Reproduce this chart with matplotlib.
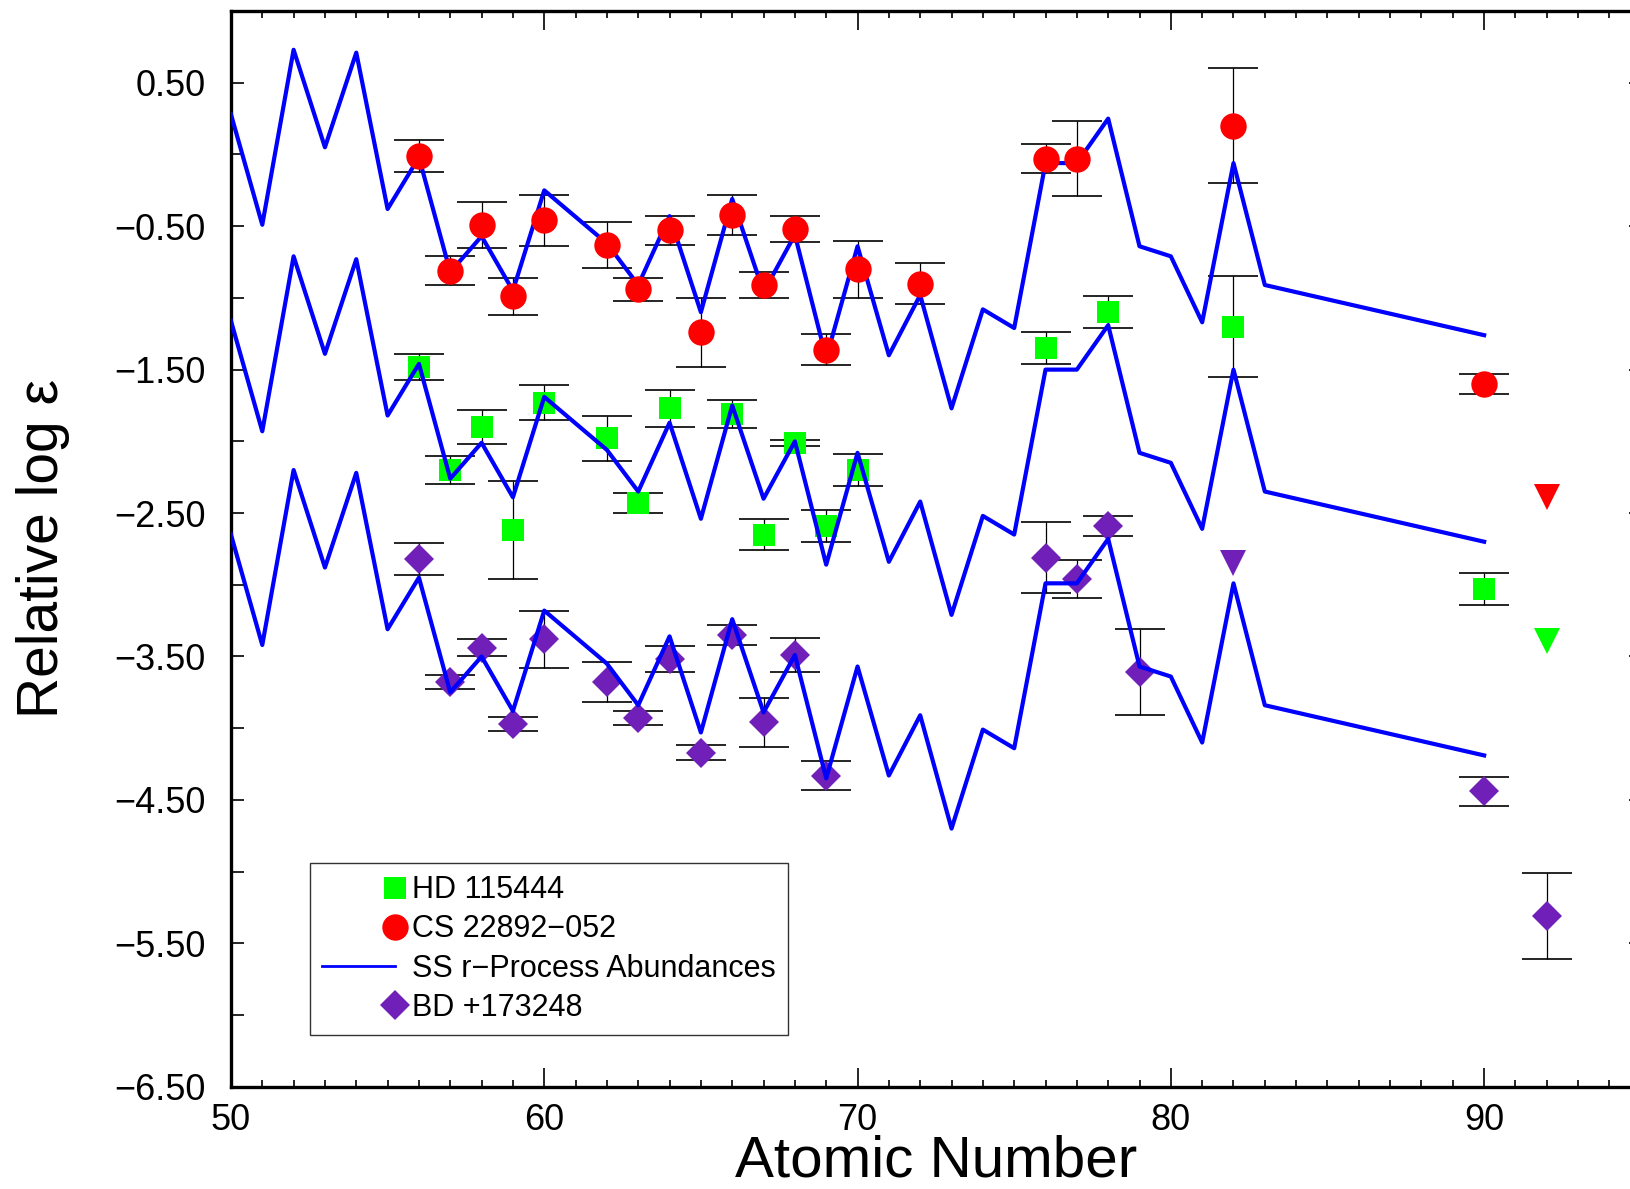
import matplotlib
matplotlib.use("Agg")
import matplotlib.pyplot as plt
import numpy as np
from matplotlib.legend_handler import HandlerLine2D
from matplotlib.lines import Line2D

plt.rcParams['font.family'] = ['Liberation Sans', 'DejaVu Sans']

# SS r-process curves (scaled to each star)
z_ss = [50, 51, 52, 53, 54, 55, 56, 57, 58, 59, 60, 62, 63, 64, 65, 66, 67, 68, 69, 70,
        71, 72, 73, 74, 75, 76, 77, 78, 79, 80, 81, 82, 83, 90]
ss_cs = [0.28, -0.49, 0.73, 0.05, 0.71, -0.38, -0.02, -0.82, -0.57, -0.95, -0.25, -0.62, -0.91,
         -0.43, -1.10, -0.31, -0.96, -0.56, -1.42, -0.64, -1.40, -0.98, -1.77, -1.08, -1.21,
         -0.06, -0.06, 0.25, -0.64, -0.71, -1.17, -0.06, -0.91, -1.26]
ss_hd = [-1.16, -1.93, -0.71, -1.39, -0.73, -1.82, -1.46, -2.26, -2.01, -2.39, -1.69, -2.06, -2.35,
         -1.87, -2.54, -1.75, -2.40, -2.00, -2.86, -2.08, -2.84, -2.42, -3.21, -2.52, -2.65,
         -1.50, -1.50, -1.19, -2.08, -2.15, -2.61, -1.50, -2.35, -2.70]
ss_bd = [-2.65, -3.42, -2.20, -2.88, -2.22, -3.31, -2.95, -3.75, -3.50, -3.88, -3.18, -3.55, -3.84,
         -3.36, -4.03, -3.24, -3.89, -3.49, -4.35, -3.57, -4.33, -3.91, -4.70, -4.01, -4.14,
         -2.99, -2.99, -2.68, -3.57, -3.64, -4.10, -2.99, -3.84, -4.19]

# CS 22892-052
z_cs = [56, 57, 58, 59, 60, 62, 63, 64, 65, 66, 67, 68, 69, 70, 72, 76, 77, 82, 90]
cs = [-0.01, -0.81, -0.49, -0.99, -0.46, -0.63, -0.94, -0.53, -1.24, -0.42, -0.91, -0.52, -1.36,
      -0.80, -0.90, -0.03, -0.03, 0.20, -1.60]
cs_err = [0.11, 0.10, 0.16, 0.13, 0.18, 0.16, 0.08, 0.10, 0.24, 0.14, 0.09, 0.09, 0.11,
          0.20, 0.14, 0.10, 0.26, 0.40, 0.07]
z_cs_lim = [92]
cs_lim = [-2.39]

# HD 115444
z_hd = [56, 57, 58, 59, 60, 62, 63, 64, 66, 67, 68, 69, 70, 76, 78, 82, 90]
hd = [-1.48, -2.20, -1.90, -2.62, -1.73, -1.98, -2.43, -1.77, -1.81, -2.65, -2.01, -2.59, -2.20,
      -1.35, -1.10, -1.20, -3.03]
hd_err = [0.09, 0.10, 0.12, 0.34, 0.12, 0.16, 0.07, 0.13, 0.10, 0.11, 0.02, 0.11, 0.11,
          0.11, 0.11, 0.35, 0.11]
z_hd_lim = [92]
hd_lim = [-3.39]

# BD +17 3248
z_bd = [56, 57, 58, 59, 60, 62, 63, 64, 65, 66, 67, 68, 69, 76, 77, 78, 79, 90, 92]
bd = [-2.82, -3.68, -3.44, -3.97, -3.38, -3.68, -3.93, -3.52, -4.17, -3.35, -3.96, -3.49, -4.33,
      -2.81, -2.96, -2.59, -3.61, -4.44, -5.31]
bd_err = [0.11, 0.05, 0.06, 0.05, 0.20, 0.14, 0.05, 0.09, 0.05, 0.07, 0.17, 0.12, 0.10,
          0.25, 0.13, 0.07, 0.30, 0.10, 0.30]
z_bd_lim = [82]
bd_lim = [-2.85]

RED = '#ff0000'
GREEN = '#00ff00'
PURPLE = '#7020b8'
BLUE = '#0000ff'

fig = plt.figure(figsize=(16.31, 11.89), dpi=100)
ax = fig.add_axes([0.1416, 0.086, 0.8644, 0.9047])

eb = dict(fmt='none', ecolor='black', elinewidth=0.9, capsize=18, capthick=1.2, zorder=1)
ax.errorbar(z_hd, hd, yerr=hd_err, **eb)
ax.errorbar(z_bd, bd, yerr=bd_err, **eb)
ax.errorbar(z_cs, cs, yerr=cs_err, **eb)

ax.plot(z_hd, hd, 's', color=GREEN, ms=16, mew=0, zorder=2)
ax.plot(z_hd_lim, hd_lim, 'v', color=GREEN, ms=19, mew=0, zorder=2)
ax.plot(z_bd, bd, 'D', color=PURPLE, ms=15, mew=0, zorder=2)
ax.plot(z_bd_lim, bd_lim, 'v', color=PURPLE, ms=19, mew=0, zorder=2)

for ss in (ss_cs, ss_hd, ss_bd):
    ax.plot(z_ss, ss, '-', color=BLUE, lw=3, zorder=3)

ax.plot(z_cs, cs, 'o', color=RED, ms=19, mew=0, zorder=4)
ax.plot(z_cs_lim, cs_lim, 'v', color=RED, ms=19, mew=0, zorder=4)

ax.set_xlim(50, 95)
ax.set_ylim(-6.5, 1.0)

ax.set_xticks(np.arange(50, 91, 10))
ax.set_xticks(np.arange(51, 95, 1), minor=True)
yt = np.arange(0.5, -7.0, -1.0)
ax.set_yticks(yt)
ax.set_yticklabels([f"{v:.2f}".replace('-', '\u2212') for v in yt])
ax.set_yticks(np.arange(0.0, -6.6, -1.0), minor=True)

ax.tick_params(which='both', direction='in', top=True, right=True, width=1.2,
               labelsize=26)
ax.tick_params(axis='x', which='major', length=14, pad=12)
ax.tick_params(axis='x', which='minor', length=5)
ax.tick_params(axis='y', which='both', length=9, pad=18)
ax.tick_params(axis='y', which='minor', right=False)

for s in ('left', 'bottom', 'top'):
    ax.spines[s].set_linewidth(2.4)
ax.spines['right'].set_visible(False)

ax.set_xlabel('Atomic Number', fontsize=42, labelpad=-3)
ax.set_ylabel('Relative log \u03b5', fontsize=41, labelpad=32)


class EndMarker(HandlerLine2D):
    # put the single marker at the right end of the handle
    def get_xdata(self, legend, xdescent, ydescent, width, height, fontsize):
        return np.array([-xdescent + width]), np.array([-xdescent + width])


end = EndMarker(numpoints=2)
handles = [
    Line2D([], [], ls='none', marker='s', color=GREEN, ms=16, mew=0),
    Line2D([], [], ls='none', marker='o', color=RED, ms=19, mew=0),
    Line2D([], [], ls='-', color=BLUE, lw=2),
    Line2D([], [], ls='none', marker='D', color=PURPLE, ms=15, mew=0),
]
labels = ['HD 115444', 'CS 22892\u2212052', 'SS r\u2212Process Abundances', 'BD +173248']
leg = ax.legend(handles, labels, loc='upper left', bbox_to_anchor=(0.056, 0.208),
                fontsize=22, frameon=True, fancybox=False, handlelength=2.4,
                handletextpad=0.55, labelspacing=0.3, borderpad=0.4, borderaxespad=0,
                handler_map={handles[0]: end, handles[1]: end, handles[3]: end})
leg.get_frame().set_edgecolor('black')
leg.get_frame().set_linewidth(1.0)

fig.savefig('out.png', dpi=100)
